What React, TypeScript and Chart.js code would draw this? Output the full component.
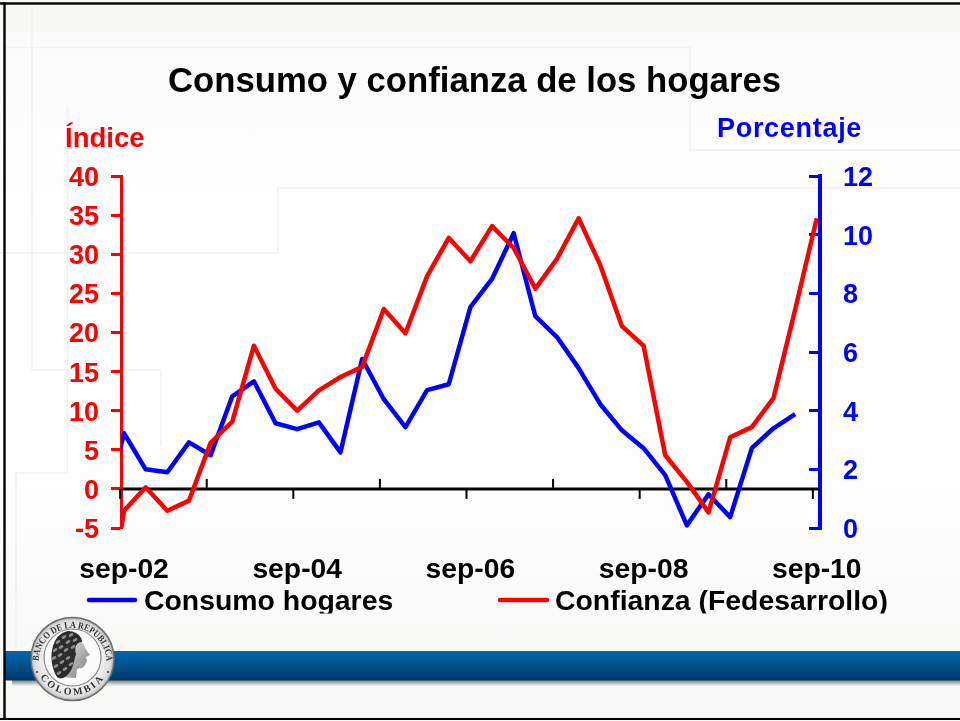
import React, { useEffect, useRef } from "react";
import { Chart, registerables } from "chart.js";

Chart.register(...registerables);

// First element of each series is the quarter before sep-02, cut off by the left axis.
const consumoHogares = [0.19, 3.23, 2.0, 1.9, 2.92, 2.48, 4.49, 5.0, 3.57, 3.37, 3.6, 2.58, 5.76, 4.39, 3.44, 4.7, 4.9, 7.53, 8.49, 10.05, 7.22, 6.51, 5.45, 4.22, 3.33, 2.72, 1.8, 0.09, 1.15, 0.37, 2.72, 3.4, 3.88];
const confianza = [-20, -2.8, 0.2, -2.8, -1.5, 5.9, 8.6, 18.3, 12.8, 10.0, 12.6, 14.3, 15.6, 23.0, 19.9, 27.2, 32.1, 29.1, 33.6, 30.8, 25.6, 29.4, 34.6, 28.6, 20.8, 18.3, 4.3, 0.9, -3.0, 6.6, 7.9, 11.6, 22.9, 34.6];
const tickLabels = ["sep-02", "sep-04", "sep-06", "sep-08", "sep-10"];
const labelEvery = 8;
const minorEvery = 4;
const titleText = "Consumo y confianza de los hogares";
const leftTitle = "Índice";
const rightTitle = "Porcentaje";
const seriesNames = ["Consumo hogares", "Confianza (Fedesarrollo)"];

const FONT = "'Liberation Sans', Arial, sans-serif";
const RED = "#ff0000";
const BLUE = "#0000ff";

const toPoints = (vals: number[]) => vals.map((y, i) => ({ x: i - 1, y }));

const decor = {
  id: "decor",
  beforeDraw(chart: any) {
    // nudge the value-axis labels down so the digits centre on their tick marks
    [chart.scales.yL, chart.scales.yR].forEach((s: any) => {
      if (s.$nudged) return;
      s.getLabelItems().forEach((item: any) => {
        item.options.translation = [item.options.translation[0], item.options.translation[1] + 2.5];
      });
      s.$nudged = true;
    });
  },
  beforeDatasetsDraw(chart: any) {
    const { ctx, scales } = chart;
    const yL = scales.yL.getPixelForValue(0);
    const x = scales.x;
    ctx.save();
    ctx.strokeStyle = "#000";
    ctx.lineWidth = 3;
    ctx.beginPath();
    ctx.moveTo(x.left, yL);
    ctx.lineTo(x.right, yL);
    ctx.stroke();
    ctx.lineWidth = 2;
    for (let k = 0; k <= 8; k++) {
      const px = x.getPixelForValue(k * minorEvery - 0.18);
      ctx.beginPath();
      ctx.moveTo(px, yL);
      ctx.lineTo(px, yL + (k % 2 === 0 ? 10 : -10));
      ctx.stroke();
    }
    ctx.restore();
  },
  afterDraw(chart: any) {
    const { ctx } = chart;
    ctx.save();
    ctx.textBaseline = "alphabetic";
    ctx.textAlign = "left";
    ctx.fillStyle = RED;
    ctx.font = `bold 27.5px ${FONT}`;
    ctx.fillText(leftTitle, 65, 147);
    ctx.fillStyle = BLUE;
    ctx.font = `bold 27px ${FONT}`;
    (ctx as any).letterSpacing = "0.7px";
    ctx.fillText(rightTitle, 717, 137);
    (ctx as any).letterSpacing = "0px";

    const items = [
      { x0: 89, x1: 135, tx: 144, ds: chart.data.datasets[0] },
      { x0: 500, x1: 547, tx: 555, ds: chart.data.datasets[1] },
    ];
    ctx.beginPath();
    ctx.rect(0, 580, 960, 33.5);
    ctx.clip();
    items.forEach((it) => {
      ctx.strokeStyle = it.ds.borderColor;
      ctx.lineWidth = 4.5;
      ctx.lineCap = "round";
      ctx.beginPath();
      ctx.moveTo(it.x0, 600);
      ctx.lineTo(it.x1, 600);
      ctx.stroke();
      ctx.fillStyle = "#000";
      ctx.font = `bold 28.4px ${FONT}`;
      ctx.fillText(it.ds.label, it.tx, 609.5);
    });
    ctx.restore();
  },
};

function Backdrop() {
  const lines = [
    "M5 47.5H690V150H960",
    "M0 253H278V188H960",
    "M32 5V370H161V445",
    "M67.5 107V473H16V650",
  ];
  return (
    <svg width={960} height={721} style={{ position: "absolute", left: 0, top: 0 }}>
      <defs>
        <linearGradient id="bg" x1="0" y1="0" x2="0" y2="1">
          <stop offset="0" stopColor="#f7f7f3" />
          <stop offset="0.044" stopColor="#f7f7f3" />
          <stop offset="0.046" stopColor="#fbfbfb" />
          <stop offset="0.26" stopColor="#fdfdfd" />
          <stop offset="0.3" stopColor="#ffffff" />
          <stop offset="0.6" stopColor="#ffffff" />
          <stop offset="0.8" stopColor="#fbfbfb" />
          <stop offset="1" stopColor="#f7f7f5" />
        </linearGradient>
      </defs>
      <rect width={960} height={721} fill="url(#bg)" />
      {lines.map((d) => (
        <path key={d} d={d} fill="none" stroke="#f1f1f1" strokeWidth={1.5} />
      ))}
    </svg>
  );
}

const curls = [
  [58, 642], [64, 637], [71, 635], [55, 650], [61, 647], [68, 642], [75, 640],
  [54, 658], [60, 655], [66, 650], [73, 647], [56, 666], [62, 662], [68, 658],
  [59, 673], [65, 669], [71, 664],
];

function Foreground() {
  return (
    <svg width={960} height={721} style={{ position: "absolute", left: 0, top: 0, pointerEvents: "none" }}>
      <defs>
        <linearGradient id="band" x1="0" y1="0" x2="0" y2="1">
          <stop offset="0" stopColor="#0066aa" />
          <stop offset="0.45" stopColor="#00558f" />
          <stop offset="1" stopColor="#003668" />
        </linearGradient>
        <linearGradient id="shadow" x1="0" y1="0" x2="0" y2="1">
          <stop offset="0" stopColor="#7d7d7d" />
          <stop offset="1" stopColor="#f4f4f2" />
        </linearGradient>
        <radialGradient id="ring" cx="0.5" cy="0.5" r="0.5">
          <stop offset="0.7" stopColor="#f2f2f2" />
          <stop offset="0.92" stopColor="#dcdcdc" />
          <stop offset="1" stopColor="#b0b0b0" />
        </radialGradient>
        <linearGradient id="face" x1="0" y1="0" x2="1" y2="1">
          <stop offset="0" stopColor="#f0f0f0" />
          <stop offset="1" stopColor="#777" />
        </linearGradient>
        <path id="arcTop" d="M38.5 662A34 34 0 1 1 106.5 662" fill="none" />
        <path id="arcBot" d="M35 663A38 38 0 0 0 110 663" fill="none" />
      </defs>
      <rect x={12} y={680} width={948} height={6} fill="url(#shadow)" />
      <rect x={5} y={651} width={955} height={29.5} fill="url(#band)" />
      <rect x={0} y={2.3} width={960} height={2.4} fill="#000" />
      <rect x={3.3} y={2.3} width={2.4} height={717.4} fill="#000" />
      <rect x={0} y={718} width={960} height={2} fill="#000" />
      <circle cx={72.5} cy={659} r={41.5} fill="url(#ring)" stroke="#6d6d6d" strokeWidth={1.5} />
      <circle cx={72.5} cy={657.5} r={28.5} fill="#fbfbfb" stroke="#8a8a8a" strokeWidth={1.2} />
      <text fontFamily="'Liberation Serif', serif" fontWeight="bold" fontSize={9.5} fill="#333">
        <textPath href="#arcTop" startOffset="1" textLength={105} lengthAdjust="spacingAndGlyphs">BANCO DE LA REPUBLICA</textPath>
      </text>
      <text fontFamily="'Liberation Serif', serif" fontWeight="bold" fontSize={10} fill="#333" letterSpacing={2.5}>
        <textPath href="#arcBot" startOffset="50%" textAnchor="middle">COLOMBIA</textPath>
      </text>
      <circle cx={37} cy={672} r={1.1} fill="#444" />
      <circle cx={108} cy={672} r={1.1} fill="#444" />
      <path
        d="M72 640C78 638 84 642 85 648L90 655 86 657 87 661 85 665C83 669 79 668 77 669L76 678 60 677 66 655Z"
        fill="url(#face)"
      />
      <path
        d="M68 631C76 631 82 636 82 642 76 642 74 648 76 654 74 660 74 666 70 672 66 678 60 680 57 677 50 666 50 650 55 641 58 635 63 632 68 631Z"
        fill="#2c2c2c"
      />
      {curls.map(([cx, cy]) => (
        <ellipse key={`${cx}-${cy}`} cx={cx} cy={cy} rx={2.6} ry={1.4} fill="#8f8f8f" transform={`rotate(-30 ${cx} ${cy})`} />
      ))}
    </svg>
  );
}

export default function App() {
  const ref = useRef<HTMLCanvasElement>(null);
  useEffect(() => {
    document.body.style.margin = "0";
    const chart = new Chart(ref.current as HTMLCanvasElement, {
      type: "line",
      data: {
        datasets: [
          { label: seriesNames[0], data: toPoints(consumoHogares), yAxisID: "yR", borderColor: BLUE, borderWidth: 4.5, pointRadius: 0, tension: 0, order: 2, borderJoinStyle: "round" },
          { label: seriesNames[1], data: toPoints(confianza), yAxisID: "yL", borderColor: RED, borderWidth: 4.5, pointRadius: 0, tension: 0, order: 1, borderJoinStyle: "round" },
        ],
      },
      options: {
        animation: false,
        responsive: false,
        layout: { padding: { left: 0, right: 11, top: 0, bottom: 123 } },
        plugins: {
          legend: { display: false },
          tooltip: { enabled: false },
          title: {
            display: true,
            text: titleText,
            color: "#000",
            font: { family: FONT, size: 34.7, weight: "bold" },
            padding: { top: 62, bottom: 72.36 },
          },
        },
        scales: {
          x: {
            type: "linear",
            min: -0.14,
            max: 32.15,
            grid: { display: false },
            border: { display: false },
            afterBuildTicks: (s: any) => {
              s.ticks = tickLabels.map((_, i) => ({ value: i * labelEvery }));
            },
            afterFit: (s: any) => { s.height = 70; },
            ticks: {
              color: "#000",
              padding: 17.5,
              maxRotation: 0,
              autoSkip: false,
              font: { family: FONT, size: 28.3, weight: "bold" },
              callback: (v: any) => tickLabels[Number(v) / labelEvery],
            },
          },
          yL: {
            type: "linear",
            position: "left",
            min: -5,
            max: 40,
            afterFit: (s: any) => { s.width = 121; },
            border: { color: RED, width: 3 },
            grid: { drawOnChartArea: false, color: RED, tickColor: RED, tickWidth: 3, tickLength: 10 },
            ticks: { stepSize: 5, color: RED, padding: 12, font: { family: FONT, size: 27, weight: "bold" } },
          },
          yR: {
            type: "linear",
            position: "right",
            min: 0,
            max: 12,
            afterFit: (s: any) => { s.width = 129; },
            border: { color: BLUE, width: 4 },
            grid: { drawOnChartArea: false, color: BLUE, tickColor: BLUE, tickWidth: 3, tickLength: -11 },
            ticks: { stepSize: 2, color: BLUE, padding: 34, font: { family: FONT, size: 27, weight: "bold" } },
          },
        },
      } as any,
      plugins: [decor],
    } as any);
    return () => chart.destroy();
  }, []);
  return (
    <div style={{ position: "relative", width: 960, height: 721, overflow: "hidden" }}>
      <Backdrop />
      <canvas ref={ref} width={960} height={721} style={{ position: "absolute", left: 0, top: 0 }} />
      <Foreground />
    </div>
  );
}
